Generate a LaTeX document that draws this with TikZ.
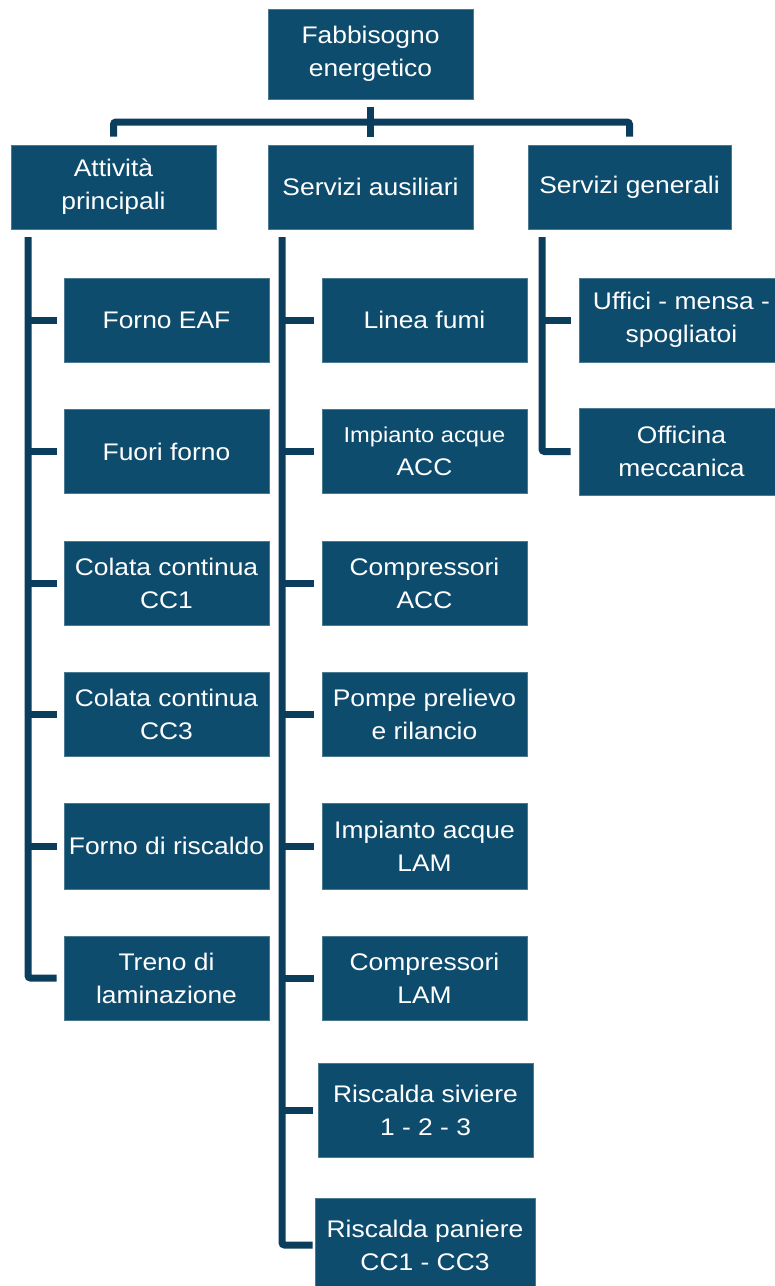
\documentclass[tikz,border=0pt]{standalone}
\usepackage{fontspec}
\setmainfont{Liberation Sans}[FakeStretch=1.1]
\definecolor{boxblue}{HTML}{0E4C6E}
\definecolor{linenavy}{HTML}{0B3D5C}
\tikzset{
  box/.style={fill=boxblue, draw=boxblue!75!white, line width=0.6pt, text=white,
    align=center, inner sep=0pt, font=\fontsize{24}{33}\selectfont,
    minimum width=205pt, minimum height=84pt},
  bus/.style={draw=linenavy, line width=7pt, rounded corners=2.5pt},
}
\begin{document}
\begin{tikzpicture}[x=1pt, y=-1pt]
\fill[white] (0,0) rectangle (775,1286);
\useasboundingbox (0,0) rectangle (775,1286);

% top and second level
\node[box, minimum height=90pt] (top) at (370.5,54) {Fabbisogno\\energetico};
\node[box] (att) at (113.5,187) {Attività\\principali};
\node[box] (aus) at (370.5,187) {Servizi ausiliari};
\node[box, minimum width=203pt] (gen) at (629.5,187) {Servizi generali};

% left column
\node[box] (l1) at (166.5,320) {Forno EAF};
\node[box] (l2) at (166.5,451.5) {Fuori forno};
\node[box] (l3) at (166.5,583) {Colata continua\\CC1};
\node[box] (l4) at (166.5,714.5) {Colata continua\\CC3};
\node[box, minimum height=86pt] (l5) at (166.5,846) {Forno di riscaldo};
\node[box] (l6) at (166.5,978) {Treno di\\laminazione};

% middle column
\node[box] (m1) at (424.5,320) {Linea fumi};
\node[box] (m2) at (424.5,451.5) {{\fontsize{21.5}{24}\selectfont Impianto acque}\\ACC};
\node[box] (m3) at (424.5,583) {Compressori\\ACC};
\node[box] (m4) at (424.5,714.5) {Pompe prelievo\\e rilancio};
\node[box, minimum height=86pt] (m5) at (424.5,846) {Impianto acque\\LAM};
\node[box] (m6) at (424.5,978) {Compressori\\LAM};
\node[box, minimum width=215pt, minimum height=94pt] (m7) at (425.5,1110) {Riscalda siviere\\1 - 2 - 3};
\node[box, minimum width=220pt, minimum height=94pt] (m8) at (425,1245) {Riscalda paniere\\CC1 - CC3};

% right column
\node[box] (r1) at (681.5,320) {Uffici - mensa -\\spogliatoi};
\node[box, minimum height=87pt] (r2) at (681.5,451.5) {Officina\\meccanica};

% bracket under the top box
\coordinate (hb) at (370.5,122);
\draw[bus] ([yshift=8pt]att.north) |- (hb) -| ([yshift=8pt]gen.north);
\draw[bus, rounded corners=0pt] ([yshift=-8pt]top.south) -- ([yshift=8pt]aus.north);

% bus coordinates
\coordinate (lt) at (28,237);
\coordinate (mt) at (282,237);
\coordinate (rt) at (542,237);

% left bus
\draw[bus, shorten >=7pt] (lt) |- (l6.west);
\foreach \n in {l1,l2,l3,l4,l5}{
  \draw[bus, shorten >=7pt] (lt|-\n.west) -- (\n.west);
}
% middle bus
\draw[bus, shorten >=2pt] (mt) |- (m8.west);
\foreach \n in {m1,m2,m3,m4,m5,m6}{
  \draw[bus, shorten >=8pt] (mt|-\n.west) -- (\n.west);
}
\draw[bus, shorten >=5pt] (mt|-m7.west) -- (m7.west);
% right bus
\draw[bus, shorten >=8pt] (rt) |- (r2.west);
\draw[bus, shorten >=8pt] (rt|-r1.west) -- (r1.west);
\end{tikzpicture}
\end{document}
